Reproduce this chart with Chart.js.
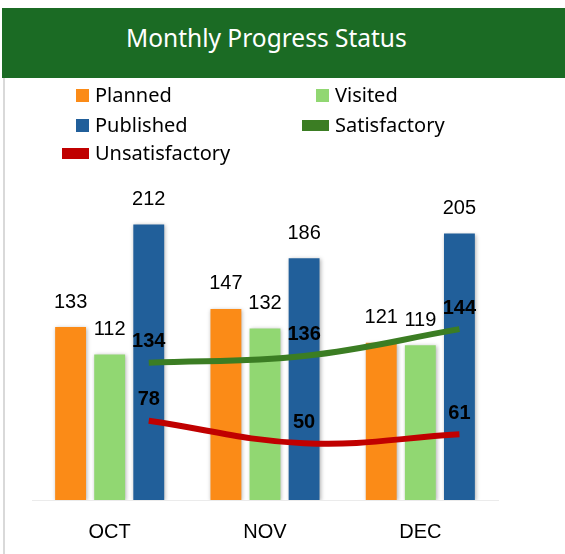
<!DOCTYPE html>
<html>
<head>
<meta charset="utf-8">
<script src="https://cdn.jsdelivr.net/npm/chart.js@4"></script>
<style>
  body { margin: 0; background: #fff; }
  #wrap { position: relative; width: 565px; height: 554px; overflow: hidden; }
  #chart { position: absolute; left: 0; top: 0; }
  .header {
    position: absolute; left: 2px; top: 8px; width: 563px; height: 70px;
    background: #1b6b24;
  }
  .header span {
    position: absolute; left: 124px; top: 14px;
    color: #fff; font: 24.5px 'Noto Sans', sans-serif; line-height: 32px; white-space: nowrap;
  }
  .edge { position: absolute; left: 3px; top: 78px; bottom: 0; width: 2px; background: #d9d9d9; }
  .legend-item { position: absolute; font: 20px 'Noto Sans', sans-serif; color: #000; line-height: 26px; white-space: nowrap; }
  .legend-item .mark { position: absolute; right: 100%; margin-right: 6px; }
</style>
</head>
<body>
<div id="wrap">
  <canvas id="chart" width="565" height="554"></canvas>
  <div class="header"><span>Monthly Progress Status</span></div>
  <div class="edge"></div>
  <div id="legend"></div>
</div>
<script>
// chart values
const months = ['OCT', 'NOV', 'DEC'];
const planned = [133, 147, 121];
const visited = [112, 132, 119];
const published = [212, 186, 205];
const satisfactory = [134, 136, 144];
const unsatisfactory = [78, 50, 61];

const colors = {
    planned: '#fb8b17',
    visited: '#91d772',
    published: '#215f9a',
    satisfactory: '#3b7d23',
    unsatisfactory: '#c00000'
};

// how far the lines are pushed right: from category centre to the Published bar
function lineShift(chart) {
    const bar = chart.getDatasetMeta(2).data[0];
    return bar ? bar.x - chart.scales.x.getPixelForValue(0) : 0;
}

// value labels above bars and line points
const valueLabels = {
    id: 'valueLabels',
    afterDatasetsDraw(chart) {
        const ctx = chart.ctx;
        const dx = lineShift(chart);
        ctx.save();
        ctx.textAlign = 'center';
        ctx.textBaseline = 'middle';
        ctx.fillStyle = '#000';
        chart.data.datasets.forEach((ds, i) => {
            const meta = chart.getDatasetMeta(i);
            const isLine = ds.type === 'line';
            ctx.font = (isLine ? 'bold ' : '') + '20px "Liberation Sans", Arial, sans-serif';
            meta.data.forEach((el, j) => {
                if (isLine) {
                    ctx.fillText(ds.data[j], el.x + dx, el.y - 21);
                } else {
                    ctx.fillText(ds.data[j], el.x, el.y - 25);
                }
            });
        });
        ctx.restore();
    }
};

// bar shadow, and lines moved over the third bar of each group
const datasetStyle = {
    id: 'datasetStyle',
    beforeDatasetDraw(chart, args) {
        const ctx = chart.ctx;
        ctx.save();
        if (args.meta.type === 'bar') {
            ctx.shadowColor = 'rgba(0, 0, 0, 0.3)';
            ctx.shadowBlur = 4;
            ctx.shadowOffsetX = 1;
            ctx.shadowOffsetY = 1;
        } else {
            ctx.translate(lineShift(chart), 0);
        }
    },
    afterDatasetDraw(chart) {
        chart.ctx.restore();
    }
};

const barOpts = { xAxisID: 'x', yAxisID: 'y', order: 1, barPercentage: 0.79, categoryPercentage: 0.755 };
const lineOpts = { type: 'line', xAxisID: 'x', borderWidth: 6, pointRadius: 0, tension: 0.4,
                   borderCapStyle: 'butt', order: 0, clip: false };

const ctx = document.getElementById('chart').getContext('2d');
const chart = new Chart(ctx, {
    type: 'bar',
    data: {
        labels: months,
        datasets: [
            { ...barOpts, label: 'Planned', data: planned, backgroundColor: colors.planned },
            { ...barOpts, label: 'Visited', data: visited, backgroundColor: colors.visited },
            { ...barOpts, label: 'Published', data: published, backgroundColor: colors.published },
            { ...lineOpts, label: 'Satisfactory', data: satisfactory, yAxisID: 'y2',
              borderColor: colors.satisfactory, backgroundColor: colors.satisfactory },
            { ...lineOpts, label: 'Unsatisfactory', data: unsatisfactory, yAxisID: 'y3',
              borderColor: colors.unsatisfactory, backgroundColor: colors.unsatisfactory }
        ]
    },
    options: {
        responsive: false,
        animation: false,
        layout: {
            padding: { top: 175, left: 32, right: 67, bottom: 0 }
        },
        plugins: {
            legend: { display: false },
            tooltip: { enabled: false }
        },
        scales: {
            x: {
                grid: { display: false, drawTicks: false },
                border: { display: true, color: '#ebebeb', width: 1 },
                ticks: {
                    color: '#000',
                    padding: 20,
                    font: { family: '"Liberation Sans", Arial, sans-serif', size: 20 }
                },
                afterFit: scale => { scale.height = 54; }
            },
            y: { display: false, min: 0, max: 250 },
            y2: { display: false, min: 93, max: 190 },
            y3: { display: false, min: -21, max: 385 }
        }
    },
    plugins: [datasetStyle, valueLabels]
});

// legend laid out in two columns like the original
const legendItems = [
    { name: 'Planned', color: colors.planned, kind: 'box', x: 95, y: 95 },
    { name: 'Visited', color: colors.visited, kind: 'box', x: 335, y: 95 },
    { name: 'Published', color: colors.published, kind: 'box', x: 95, y: 125 },
    { name: 'Satisfactory', color: colors.satisfactory, kind: 'line', x: 335, y: 125 },
    { name: 'Unsatisfactory', color: colors.unsatisfactory, kind: 'line', x: 95, y: 153 }
];
const legendEl = document.getElementById('legend');
legendItems.forEach(item => {
    const div = document.createElement('div');
    div.className = 'legend-item';
    div.style.left = item.x + 'px';
    div.style.top = (item.y - 13) + 'px';
    const mark = document.createElement('span');
    mark.className = 'mark';
    const w = item.kind === 'box' ? 13 : 27;
    const h = item.kind === 'box' ? 13 : 11;
    mark.style.width = w + 'px';
    mark.style.height = h + 'px';
    mark.style.top = (13 - h / 2) + 'px';
    mark.style.background = item.color;
    div.appendChild(mark);
    div.appendChild(document.createTextNode(item.name));
    legendEl.appendChild(div);
});
</script>
</body>
</html>
